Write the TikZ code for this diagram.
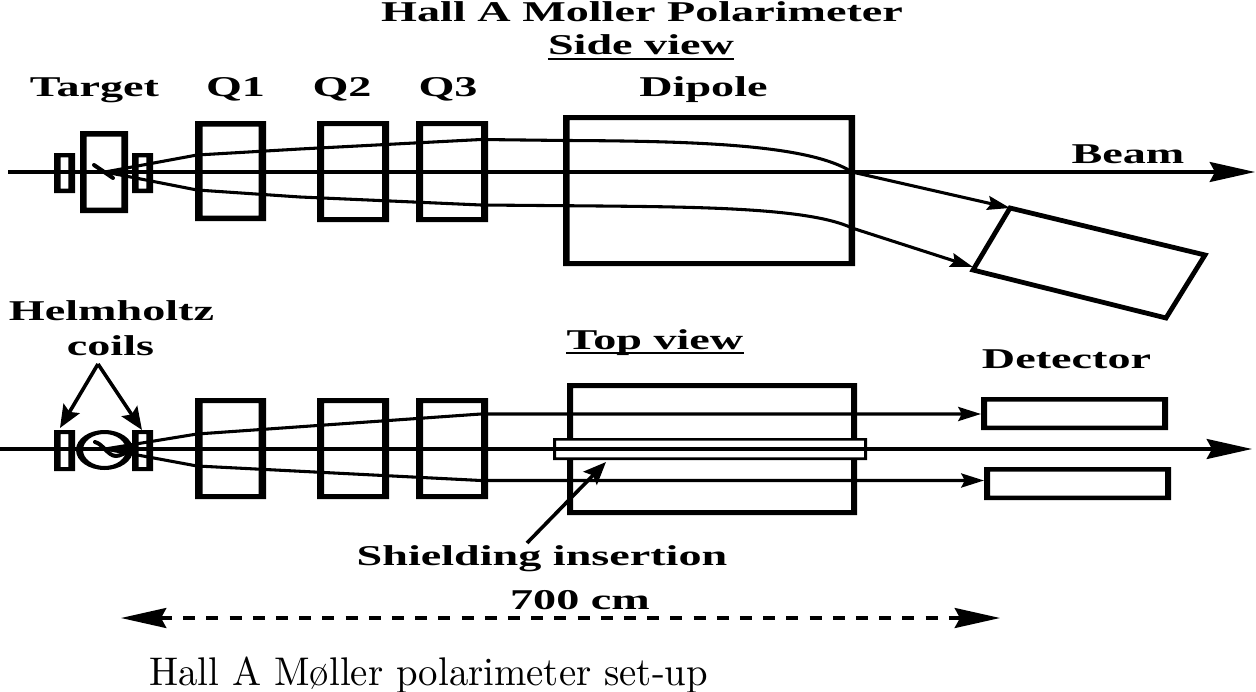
\documentclass[tikz,border=0pt]{standalone}
\usepackage{graphicx}
\usepackage{fontspec}
\newfontfamily\labelfont{Liberation Serif}
\usetikzlibrary{arrows.meta,fit}
\tikzset{
  px/.style={x=0.75pt,y=-0.75pt},
  boxframe/.style={fill=black,even odd rule},
  boxarea/.style={inner sep=0pt,outer sep=0pt},
  ray/.style={draw=black,line width=2.3pt},
  beamline/.style={draw=black,line width=2.3pt},
  bigtip/.style={-{Stealth[length=34pt,width=15pt,inset=4pt]}},
  smalltip/.style={-{Stealth[length=17pt,width=10.5pt,inset=2.5pt]}},
  pointer/.style={draw=black,line width=2.7pt,-{Stealth[length=17pt,width=14pt,inset=3pt]}},
  label/.style={inner sep=0pt,anchor=base,font=\labelfont\bfseries\fontsize{21.5}{21.5}\selectfont},
  rule/.style={draw=black,line width=1.8pt},
  pip/.style={draw=black,line width=3pt,line cap=round},
}
\newcommand{\wdr}[1]{\scalebox{1.61}[1]{#1}}
% name, x1, y1, x2, y2 (outer edges), side thickness, top thickness
\newcommand{\abox}[7]{%
  \fill[boxframe] (#2,#3) rectangle (#4,#5) ({#2+#6},{#3+#7}) rectangle ({#4-#6},{#5-#7});
  \coordinate (#1-a) at (#2,#3); \coordinate (#1-b) at (#4,#5);
  \node[boxarea,fit=(#1-a)(#1-b)] (#1) {};
}
\begin{document}
\begin{tikzpicture}[px]
\useasboundingbox (0,0) rectangle (1256,692);
% --- Side view
\abox{c1}{54}{153}{75}{193}{6.7}{4.3}
\abox{c2}{132}{153}{153}{193}{6.7}{4.3}
\abox{tg}{80}{131}{128}{213}{6.7}{5.5}
\abox{q1}{195}{121}{266}{221}{7.5}{5.5}
\abox{q2}{317}{121}{389}{222}{7}{5}
\abox{q3}{416}{121}{488}{222}{7}{5}
\abox{dp}{563}{115}{855}{266}{6.5}{5}
\coordinate (b1s) at (8,172); \coordinate (b1e) at (1255,172);
\draw[beamline,bigtip] (b1s) -- (b1e);
\coordinate (v1) at (105,172);
\coordinate (d1) at (1010,208); \coordinate (d2) at (1205,255); \coordinate (d3) at (1166,318); \coordinate (d4) at (973,270);
\coordinate (vb) at (973,267);
\draw[ray] (v1) -- (197,155) -- (300,149) -- (481,139.5) -- (565,140.5) .. controls (700,141) and (810,145) .. (852,172);
\draw[ray,smalltip] (852,172) -- (d1);
\draw[ray] (v1) -- (197,190) -- (300,197) -- (481,205) -- (600,206) .. controls (700,207) and (810,208) .. (852,228);
\draw[ray,smalltip] (852,228) -- (vb);
\draw[pip] (94,165) -- (113,178);
\draw[black,line width=3.6pt,miter limit=10] (d1) -- (d2) -- (d3) -- (d4) -- cycle;
% --- Top view
\abox{c3}{54}{430}{75}{471}{6.7}{4}
\abox{c4}{132}{430}{153}{471}{6.7}{4}
\fill[boxframe] (104.5,450) ellipse (28.5 and 20) (104.5,450) ellipse (21.5 and 16);
\abox{q4}{195}{398}{266}{499}{7.5}{5}
\abox{q5}{317}{398}{389}{499}{7}{5}
\abox{q6}{416}{398}{488}{499}{7}{5}
\abox{dt}{567}{383}{857}{515}{6}{5}
\abox{d5}{981}{397}{1168}{430}{6}{4.5}
\abox{d6}{984}{467}{1171}{500}{6}{4.5}
\coordinate (v2) at (105,449);
\coordinate (r1) at (481,414); \coordinate (r2) at (481,480.5);
\draw[ray,smalltip] (v2) -- (197,434) -- (r1) -- (r1 -| d5.west);
\draw[ray,smalltip] (v2) -- (197,466) -- (r2) -- (r2 -| d6.west);
\fill[white] (553,438) rectangle (867,460);
\abox{sh}{553}{438}{867}{460}{3}{2.7}
\coordinate (b2s) at (0,449); \coordinate (b2e) at (1252,449);
\draw[beamline,bigtip] (b2s) -- (b2e);
\draw[pip] (95,442) .. controls (103,444) and (108,456) .. (116,456) .. controls (120,456) and (124,453) .. (128,452);
% --- Labels
\node[label] (t0) at (642,22) {\wdr{Hall A Moller Polarimeter}};
\node[label] (t1) at (641,55) {\wdr{Side view}};
\draw[rule] (t1.west |- 0,59) -- (t1.east |- 0,59);
\node[label] (t2) at (94.5,97) {\wdr{Target}};
\node[label] (t3) at (235.5,97) {\wdr{Q1}};
\node[label] (t4) at (342,97) {\wdr{Q2}};
\node[label] (t5) at (448,97) {\wdr{Q3}};
\node[label] (t6) at (703.5,97) {\wdr{Dipole}};
\node[label] (t7) at (1128,163) {\wdr{Beam}};
\node[label] (t8) at (111.5,320) {\wdr{Helmholtz}};
\node[label] (t9) at (110.5,355) {\wdr{coils}};
\node[label] (t10) at (655,349) {\wdr{Top view}};
\draw[rule] (t10.west |- 0,353) -- (t10.east |- 0,353);
\node[label] (t11) at (1066.5,368) {\wdr{Detector}};
\node[label] (t12) at (542,565) {\wdr{Shielding insertion}};
\node[label] (t13) at (580,609) {\wdr{700 cm}};
\coordinate (hh) at (98,364);
\coordinate (h1) at (60,428); \coordinate (h2) at (142,430);
\draw[pointer] (hh) -- (h1);
\draw[pointer] (hh) -- (h2);
\coordinate (sa) at (527,543); \coordinate (sb) at (606,462);
\draw[pointer] (sa) -- (sb);
\coordinate (da) at (121,618); \coordinate (db) at (1000,618);
\draw[black,line width=2.4pt,dash pattern=on 9pt off 8.4pt,{Stealth[length=34pt,width=15pt,inset=4pt]}-{Stealth[length=34pt,width=15pt,inset=4pt]}] (da) -- (db);
\node[inner sep=0pt,anchor=base west] (cap) at (149,685) {\scalebox{2.91}[3]{\fontsize{10}{12}\selectfont Hall A Møller polarimeter set-up}};
\end{tikzpicture}
\end{document}
